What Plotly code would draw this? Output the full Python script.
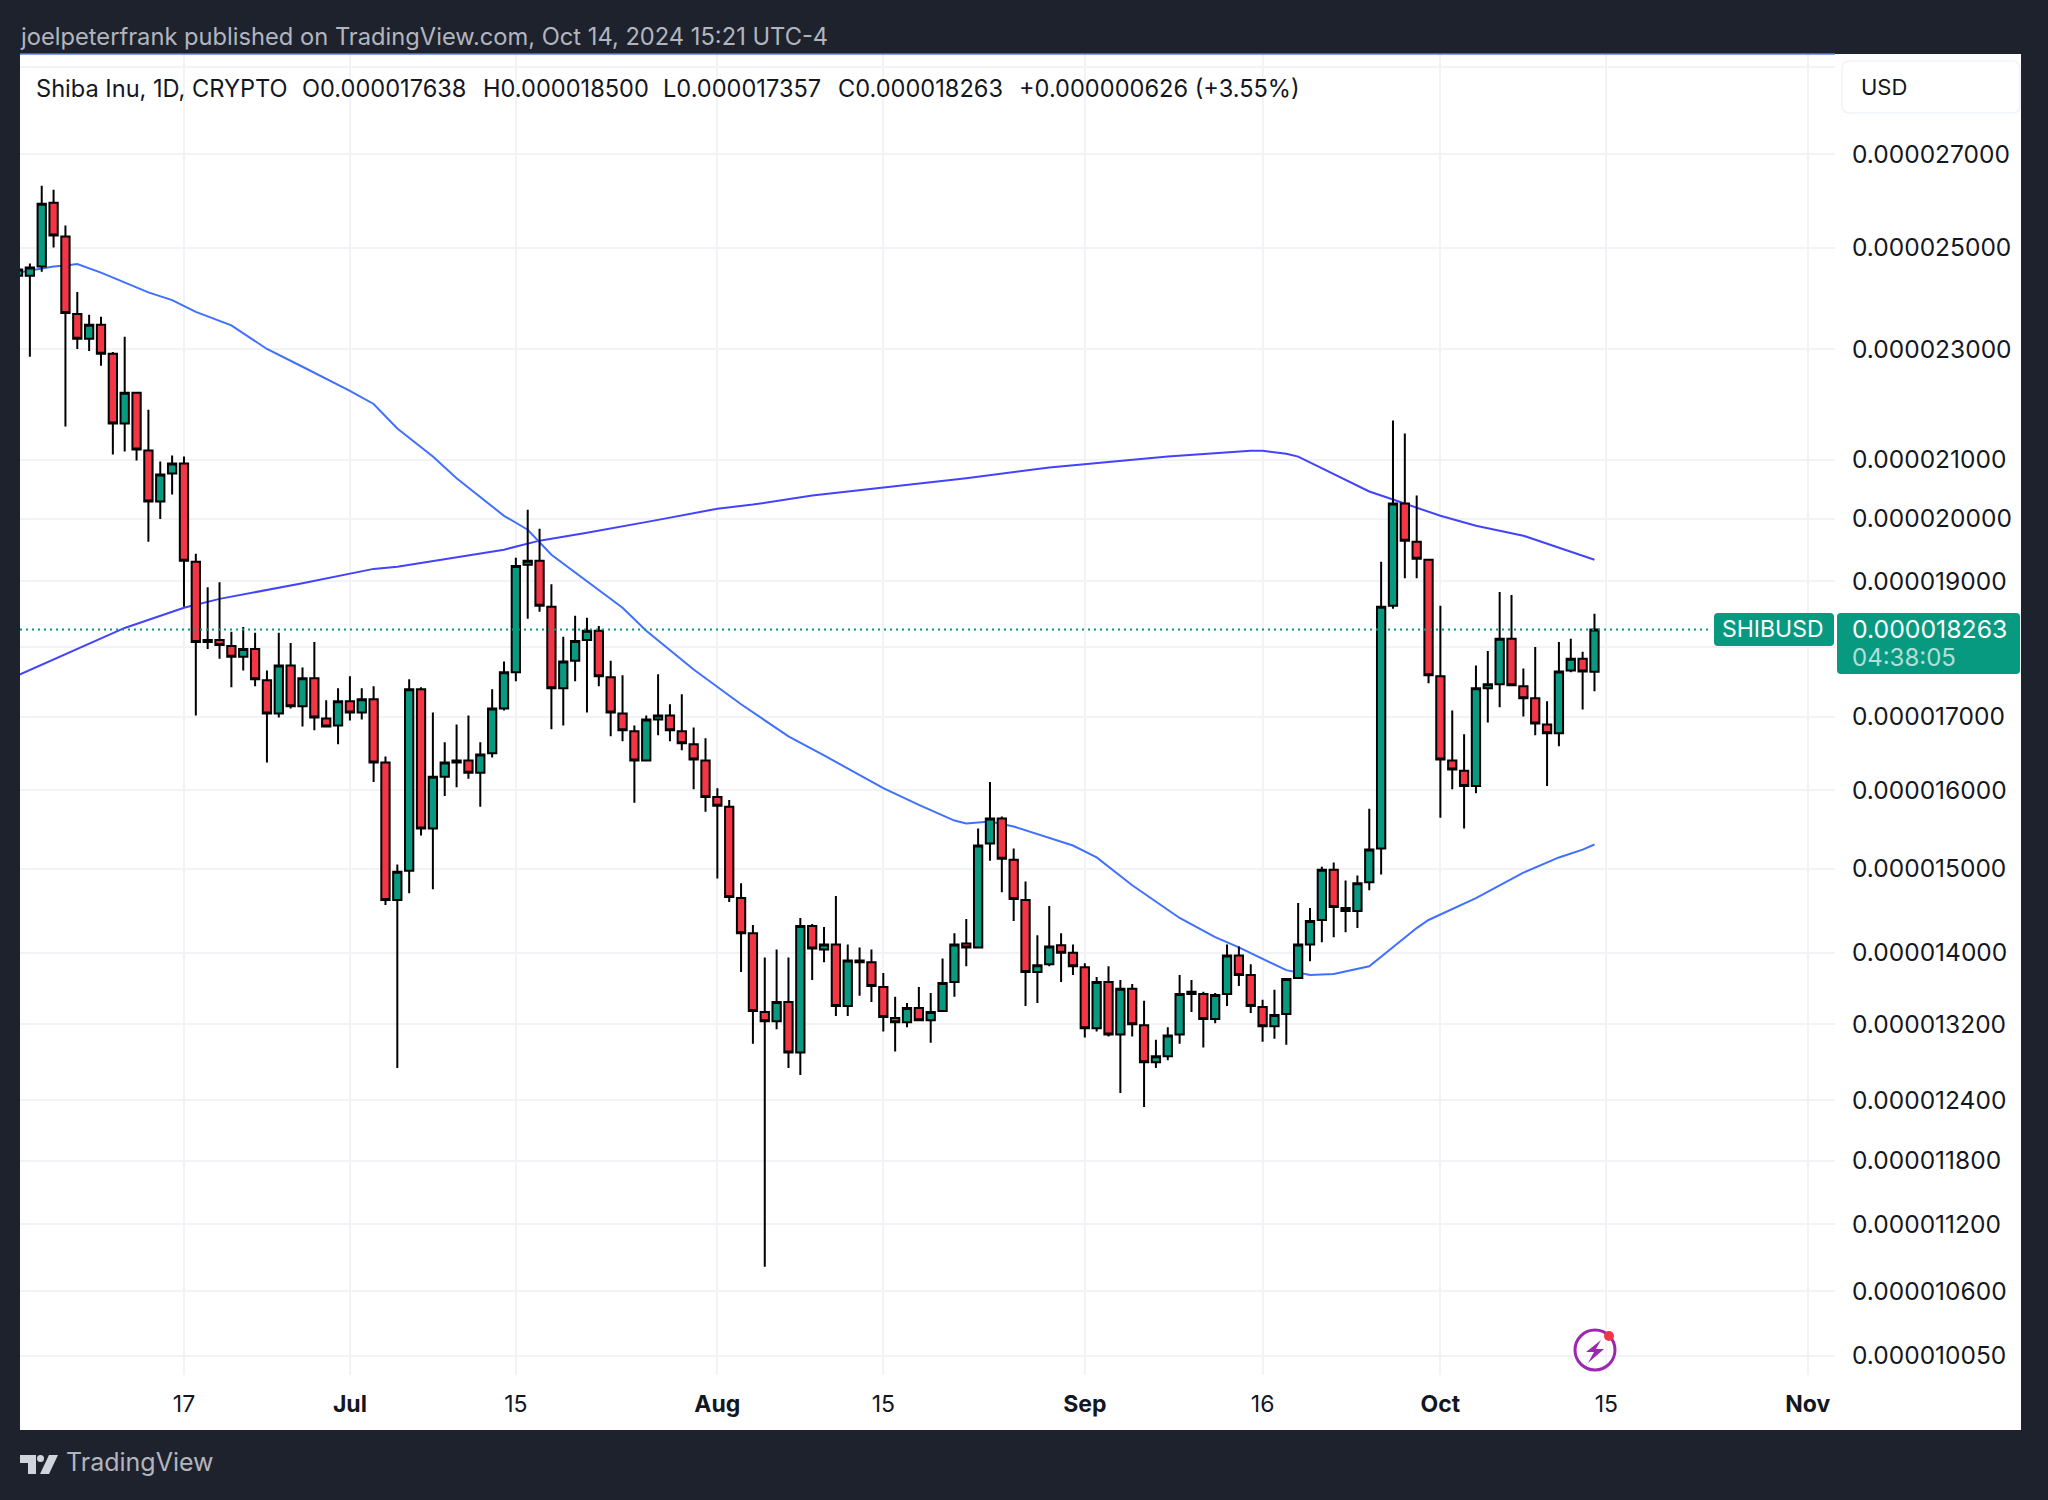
import math
import pandas as pd
import plotly.graph_objects as go

SCALE = 1e-9  # lists below are in units of 0.000000001 USD
dates = pd.date_range("2024-06-03", "2024-10-14").strftime("%Y-%m-%d").tolist()

opens = [24429,24429,24612,25938,25229,23673,23192,23462,22908,21633,
22185,21158,20290,20763,20932,19308,18106,18106,18015,17857,
17971,17514,17043,17728,17143,17543,16973,16877,17214,17057,
17243,16370,14619,14976,17386,15505,16178,16370,16397,16233,
16493,17114,17629,19260,19324,18605,17400,17800,18106,18243,
17557,17043,16795,16397,16959,17014,16795,16616,16397,15911,
15784,14643,14226,13333,13233,13444,12897,14309,14036,14095,
13400,13889,13889,13611,13267,13222,13378,13244,13344,13667,
14107,14060,15314,15632,15111,14619,13778,13867,14084,14000,
13833,13156,13667,13089,13589,13189,12794,12856,13089,13533,
13533,13256,13533,13967,13744,13389,13178,13311,13711,14095,
14381,14988,14524,14488,14833,15251,18620,20254,19630,19340,
17572,16397,16260,16055,17400,17457,18122,17429,17257,16890,
16767,17657,17828,17638]
highs = [24592,24674,26306,26219,25458,24102,23654,23616,22945,23230,
22204,21878,20966,21070,21052,19437,18909,18985,18228,18300,
18213,17657,18213,18061,17700,18076,17229,17400,17572,17400,
17429,16452,15051,17529,17415,17057,16643,16890,17014,16643,
17386,17786,19372,20152,19839,18954,18152,18468,18437,18316,
17800,17586,16877,17014,17600,17172,17314,16849,16699,16027,
15873,14821,14321,13945,14036,13945,14405,14333,14298,14667,
14095,14060,14036,13767,13500,13433,13611,13544,13933,14226,
14393,15505,16110,15657,15251,14845,14202,14548,14226,14095,
13878,13722,13844,13689,13644,13456,13033,13167,13744,13689,
13556,13544,14095,14072,13867,13467,13578,13711,14583,14524,
15025,15076,14857,14917,15759,19308,21685,21455,20389,19356,
18620,17086,16753,17728,17943,18833,18787,17686,18000,17214,
18076,18122,17929,18500]
lows = [24388,22852,24510,25000,21580,23000,22963,22686,21090,21140,
20983,19630,20000,20406,18605,17014,17971,17828,17415,17657,
17429,16370,16986,17114,16863,16808,16849,16616,16945,16959,
16110,14560,12732,14702,15416,14750,15924,16041,16151,15784,
16438,17086,17500,18422,18529,16822,16877,17500,17057,17429,
16726,16657,15835,16384,16740,16657,16534,16014,15721,14881,
14595,13778,12990,10812,13144,12732,12660,13689,13889,13289,
13289,13511,13444,13122,12907,13167,13244,13000,13333,13500,
13844,14048,15098,14714,14369,13400,13433,13844,13667,13744,
13056,13122,13067,12474,13067,12330,12732,12815,12990,13333,
12949,13211,13400,13622,13322,13011,13044,12979,13700,13900,
14119,14179,14238,14286,14738,14929,18574,19048,19048,17472,
15644,16014,15505,15962,16918,17129,17443,17000,16740,16055,
16589,17629,17100,17357]
closes = [24551,24592,25917,25250,23692,23192,23462,22908,21633,22185,
21175,20290,20746,20932,19324,18076,18076,18030,17857,17971,
17529,17043,17728,17143,17543,16986,16863,17214,17057,17243,
16370,14619,14964,17386,15505,16178,16370,16397,16233,16479,
17114,17629,19242,19324,18620,17400,17786,18091,18243,17572,
17057,16808,16397,16959,17014,16808,16630,16411,15911,15797,
14655,14226,13344,13233,13444,12897,14309,14048,14095,13400,
13911,13911,13622,13278,13222,13378,13244,13333,13656,14095,
14060,15289,15632,15124,14631,13778,13856,14072,14000,13844,
13156,13667,13089,13589,13200,12794,12856,13078,13533,13556,
13256,13522,13967,13744,13400,13178,13300,13700,14095,14369,
14988,14536,14488,14821,15238,18605,20254,19646,19356,17586,
16411,16274,16055,17400,17457,18122,17443,17257,16904,16767,
17643,17828,17643,18263]

ma_fast_dates = ["2024-06-03","2024-06-06","2024-06-07","2024-06-08","2024-06-10","2024-06-11","2024-06-12","2024-06-14",
"2024-06-16","2024-06-18","2024-06-21","2024-06-24","2024-06-27","2024-07-01","2024-07-03","2024-07-05","2024-07-08",
"2024-07-10","2024-07-14","2024-07-16","2024-07-18","2024-07-24","2024-07-26","2024-07-30","2024-08-03","2024-08-04",
"2024-08-07","2024-08-10","2024-08-13","2024-08-15","2024-08-18","2024-08-21","2024-08-22","2024-08-24","2024-08-26",
"2024-08-31","2024-09-02","2024-09-05","2024-09-09","2024-09-12","2024-09-14","2024-09-18","2024-09-20","2024-09-22",
"2024-09-25","2024-09-29","2024-09-30","2024-10-04","2024-10-08","2024-10-11","2024-10-13","2024-10-14"]
ma_fast = [24490,24612,24633,24663,24490,24388,24286,24096,
23942,23712,23452,23000,22666,22222,21983,21545,21052,
20679,20051,19823,19420,18590,18243,17671,17172,17057,
16726,16466,16205,16027,15810,15606,15568,15594,15530,
15289,15140,14798,14405,14179,14060,13800,13744,13756,
13844,14286,14381,14643,14952,15140,15238,15302]

ma_slow_dates = ["2024-06-03","2024-06-12","2024-06-17","2024-06-20","2024-06-27","2024-07-03","2024-07-05","2024-07-14",
"2024-07-17","2024-07-21","2024-07-27","2024-08-01","2024-08-04","2024-08-09","2024-08-22","2024-08-29","2024-09-08",
"2024-09-15","2024-09-16","2024-09-18","2024-09-19","2024-09-22","2024-09-25","2024-09-27","2024-10-01","2024-10-04",
"2024-10-08","2024-10-14"]
ma_slow = [17586,18285,18590,18727,18970,19195,19227,19501,
19646,19775,19984,20169,20237,20389,20679,20865,21052,
21153,21153,21101,21052,20746,20456,20321,20051,19887,
19726,19340]

y_ticks = [29000,27000,25000,23000,21000,20000,19000,18000,17000,16000,15000,14000,13200,12400,11800,11200,10600,10050]
y_labels = ["","0.000027000","0.000025000","0.000023000","0.000021000","0.000020000","0.000019000","",
"0.000017000","0.000016000","0.000015000","0.000014000","0.000013200","0.000012400","0.000011800",
"0.000011200","0.000010600","0.000010050"]
x_ticks = ["2024-06-17","2024-07-01","2024-07-15","2024-08-01","2024-08-15","2024-09-01","2024-09-16","2024-10-01","2024-10-15","2024-11-01"]
x_labels = ["17","<b>Jul</b>","15","<b>Aug</b>","15","<b>Sep</b>","16","<b>Oct</b>","15","<b>Nov</b>"]

header = "joelpeterfrank published on TradingView.com, Oct 14, 2024 15:21 UTC-4"
legend_items = [("Shiba Inu, 1D, CRYPTO", 36), ("O0.000017638", 302), ("H0.000018500", 483),
                ("L0.000017357", 663), ("C0.000018263", 838), ("+0.000000626 (+3.55%)", 1019)]

BG, UP, DOWN, FG, GRID = "#1e222d", "#089981", "#f23645", "#131722", "#f2f3f6"
FONT = "Inter"
L, R, T, B = 20, 1835, 54, 1375
W, H = 2048, 1500
PX = lambda x: (x - L) / (R - L)
PY = lambda y: (B - y) / (B - T)
y_range = [math.log10(9892e-9), math.log10(29314e-9)]
x_range = ["2024-06-03 04:00", "2024-11-03 07:00"]
scaled = lambda a: [v * SCALE for v in a]

fig = go.Figure()
fig.add_trace(go.Scatter(x=ma_slow_dates, y=scaled(ma_slow), mode="lines", line=dict(color="#4343ff", width=2), hoverinfo="skip", showlegend=False))
fig.add_trace(go.Scatter(x=ma_fast_dates, y=scaled(ma_fast), mode="lines", line=dict(color="#4070ff", width=2), hoverinfo="skip", showlegend=False))
fig.add_trace(go.Candlestick(x=dates, open=scaled(opens), high=scaled(highs), low=scaled(lows), close=scaled(closes),
    xaxis="x2", yaxis="y2", whiskerwidth=0,
    increasing=dict(fillcolor=UP, line=dict(color="#000000", width=2)),
    decreasing=dict(fillcolor=DOWN, line=dict(color="#000000", width=2)),
    hoverinfo="skip", showlegend=False))


def rrect(x0, y0, x1, y1, r=4):
    a, b, c, d = PX(x0), PX(x1), PY(y0), PY(y1)
    rx, ry = r / (R - L), r / (B - T)
    return (f"M{a+rx},{c} L{b-rx},{c} Q{b},{c} {b},{c-ry} L{b},{d+ry} Q{b},{d} {b-rx},{d} "
            f"L{a+rx},{d} Q{a},{d} {a},{d+ry} L{a},{c-ry} Q{a},{c} {a+rx},{c} Z")


def poly(points):
    return "M" + " L".join(f"{PX(x)},{PY(y)}" for x, y in points) + " Z"


def paper_shape(**kw):
    return dict(xref="paper", yref="paper", **kw)


shapes = [
    paper_shape(type="rect", x0=PX(20), x1=PX(2021), y0=PY(54), y1=PY(1430), fillcolor="#ffffff", line_width=0, layer="below"),
    paper_shape(type="line", x0=0, x1=1, y0=PY(54), y1=PY(54), line=dict(color="#5c7fd6", width=1.5)),
    dict(type="line", xref="paper", yref="y", x0=0, x1=PX(1712), y0=closes[-1] * SCALE, y1=closes[-1] * SCALE,
         line=dict(color=UP, width=2, dash="2px,4px")),
    paper_shape(type="path", path=rrect(1714, 613, 1834, 646), fillcolor=UP, line_width=0),
    paper_shape(type="path", path=rrect(1837, 613, 2020, 674), fillcolor=UP, line_width=0),
    paper_shape(type="path", path=rrect(1842, 61, 2020, 113, 8), fillcolor="#ffffff", line=dict(color="#f0f3fa", width=1.5)),
    # lightning badge
    paper_shape(type="circle", x0=PX(1575), x1=PX(1615), y0=PY(1330), y1=PY(1370), line=dict(color="#9c27b0", width=3), fillcolor="rgba(0,0,0,0)"),
    paper_shape(type="path", path=poly([(1601,1340),(1586,1352),(1594,1352),(1588,1363),(1604,1349),(1596,1349)]), fillcolor="#9c27b0", line_width=0),
    paper_shape(type="circle", x0=PX(1604), x1=PX(1614), y0=PY(1331), y1=PY(1341), fillcolor=DOWN, line_width=0),
    # footer logo
    paper_shape(type="path", path=poly([(20,1455),(36,1455),(36,1474),(28,1474),(28,1463),(20,1463)]), fillcolor="#d1d4dc", line_width=0),
    paper_shape(type="circle", x0=PX(37), x1=PX(44), y0=PY(1455), y1=PY(1462), fillcolor="#d1d4dc", line_width=0),
    paper_shape(type="path", path=poly([(49,1455),(58,1455),(49,1474),(40,1474)]), fillcolor="#d1d4dc", line_width=0),
]


def text(s, x, y, color=FG, size=23, anchor="left"):
    return dict(text=s, x=PX(x), y=PY(y), xref="paper", yref="paper", xanchor=anchor, yanchor="middle",
                showarrow=False, font=dict(family=FONT, size=size, color=color), align="left", borderpad=0, borderwidth=0)


annotations = [text(header, 20, 36, color="#b2b5be", size=23.7)]
annotations += [text(s, x, 89, size=23.6) for s, x in legend_items]
annotations += [
    text("USD", 1861, 87, size=22),
    text("SHIBUSD", 1722, 629, color="#ffffff", size=23),
    text(f"{closes[-1] * SCALE:.9f}", 1852, 629, color="#ffffff", size=24.8),
    text("04:38:05", 1852, 657, color="rgba(255,255,255,0.7)", size=24),
    text("TradingView", 66, 1462, color="#b2b5be", size=25),
]

fig.update_layout(
    width=W, height=H, paper_bgcolor=BG, plot_bgcolor="#ffffff",
    margin=dict(l=L, r=W - R, t=T, b=H - B, autoexpand=False),
    showlegend=False, shapes=shapes, annotations=annotations, boxgap=0.3, boxgroupgap=0,
    xaxis=dict(type="date", range=x_range, tickmode="array", tickvals=x_ticks, ticktext=x_labels,
               showgrid=True, gridcolor=GRID, gridwidth=2, zeroline=False, showline=False, ticks="",
               ticklabelstandoff=13, tickfont=dict(family=FONT, size=23, color=FG), rangeslider=dict(visible=False)),
    yaxis=dict(type="log", range=y_range, side="right", tickmode="array", tickvals=scaled(y_ticks), ticktext=y_labels,
               showgrid=True, gridcolor=GRID, gridwidth=2, zeroline=False, showline=False, ticks="",
               ticklabelstandoff=16, tickfont=dict(family=FONT, size=24.5, color=FG)),
    xaxis2=dict(type="date", range=x_range, overlaying="x", visible=False, rangeslider=dict(visible=False)),
    yaxis2=dict(type="log", range=y_range, overlaying="y", visible=False),
)

fig.write_html("out.html", config=dict(displayModeBar=False),
               post_script="document.body.style.margin='0';document.body.style.background='#1e222d';")
